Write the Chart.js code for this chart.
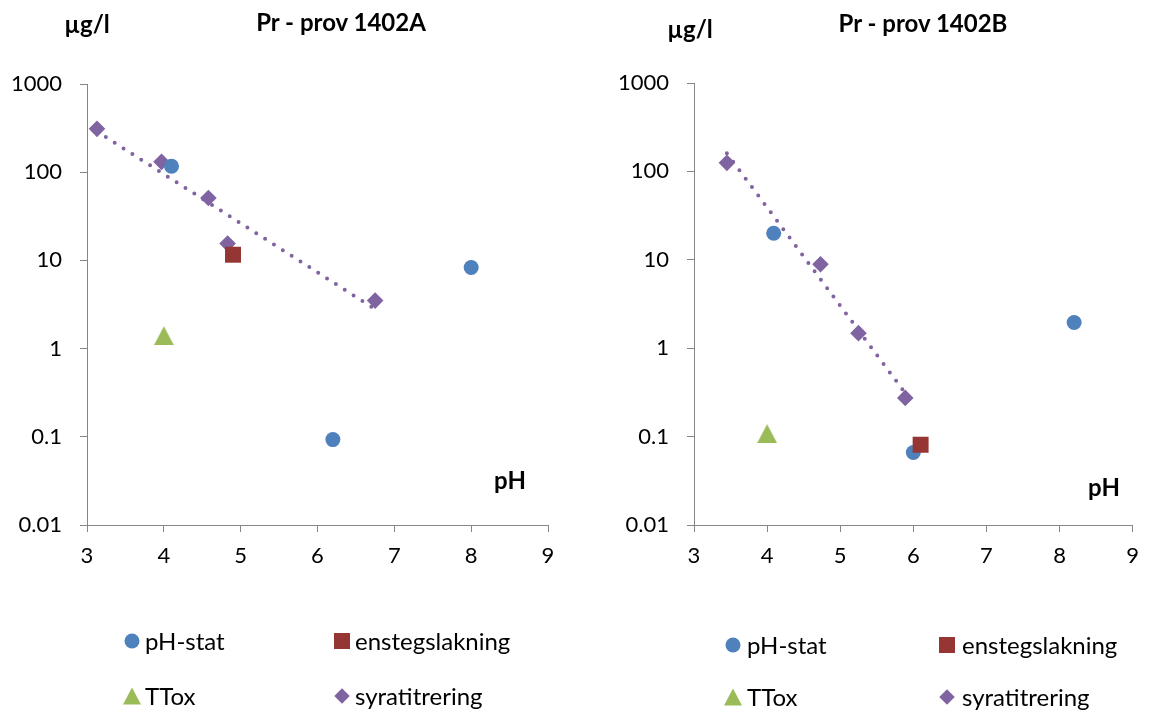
<!DOCTYPE html>
<html>
<head>
<meta charset="utf-8">
<script src="https://cdn.jsdelivr.net/npm/chart.js@4.4.0/dist/chart.umd.min.js"></script>
<style>
body{margin:0;background:#fff;}
#wrap{position:relative;width:1150px;height:710px;font-family:Lato,sans-serif;color:#000;overflow:hidden;}
.panel{position:absolute;top:0;width:575px;height:710px;}
.panel canvas{position:absolute;left:0;top:0;}
.lbl{position:absolute;white-space:nowrap;font-weight:bold;font-size:24px;line-height:1;transform:translate(-50%,-50%);}
.leg{position:absolute;font-size:24px;line-height:1;white-space:nowrap;transform:translateY(-50%);}
.mk{position:absolute;transform:translate(-50%,-50%);}
</style>
</head>
<body>
<div id="wrap">
  <div class="panel" id="pA" style="left:0"><canvas id="cA" width="575" height="710"></canvas></div>
  <div class="panel" id="pB" style="left:575px"><canvas id="cB" width="575" height="710"></canvas></div>
</div>
<script>
// series names (legend order)
var seriesNames = ['pH-stat', 'enstegslakning', 'TTox', 'syratitrering'];
var xTicks = [3, 4, 5, 6, 7, 8, 9];
var yTicks = [0.01, 0.1, 1, 10, 100, 1000];
var yTickLabels = ['0.01', '0.1', '1', '10', '100', '1000'];

// Pr - prov 1402A
var aPhStatX = [4.1, 6.2, 8.0];
var aPhStatY = [117, 0.093, 8.3];
var aEnstegX = [4.9];
var aEnstegY = [11.6];
var aTToxX = [4.0];
var aTToxY = [1.4];
var aSyraX = [3.13, 3.97, 4.58, 4.83, 6.75];
var aSyraY = [310, 131, 51, 15.5, 3.5];
var aTrendX = [3.13, 6.75];
var aTrendY = [290, 2.8];

// Pr - prov 1402B
var bPhStatX = [4.09, 6.0, 8.2];
var bPhStatY = [20, 0.066, 1.95];
var bEnstegX = [6.1];
var bEnstegY = [0.081];
var bTToxX = [4.0];
var bTToxY = [0.108];
var bSyraX = [3.45, 4.73, 5.25, 5.89];
var bSyraY = [125, 8.9, 1.48, 0.274];
var bTrendX = [3.45, 5.89];
var bTrendY = [160, 0.31];

var colors = ['#4F81BD', '#963634', '#9BBB59', '#8064A2'];
var axisColor = '#868686';

function pts(xs, ys) {
  return xs.map(function (x, i) { return { x: x, y: ys[i] }; });
}

function triImg(color, w, h) {
  var c = document.createElement('canvas');
  c.width = w; c.height = h;
  var g = c.getContext('2d');
  g.fillStyle = color;
  g.beginPath();
  g.moveTo(w / 2, 0);
  g.lineTo(w, h);
  g.lineTo(0, h);
  g.closePath();
  g.fill();
  return c;
}

function makeChart(id, d, lay) {
  var datasets = [
    { label: seriesNames[0], data: pts(d.phX, d.phY), pointStyle: 'circle', pointRadius: 7.5,
      backgroundColor: colors[0], borderWidth: 0, order: 3 },
    { label: seriesNames[1], data: pts(d.enX, d.enY), pointStyle: 'rect', pointRadius: 11.3,
      backgroundColor: colors[1], borderWidth: 0, order: 2 },
    { label: seriesNames[2], data: pts(d.ttX, d.ttY), pointStyle: triImg(colors[2], 20, 19),
      backgroundColor: colors[2], borderWidth: 0, order: 1 },
    { label: seriesNames[3], data: pts(d.syX, d.syY), pointStyle: 'rectRot', pointRadius: 8.3,
      backgroundColor: colors[3], borderWidth: 0, order: 4 },
    { label: 'trend', data: pts(d.trX, d.trY), showLine: true, pointRadius: 0,
      borderColor: colors[3], borderWidth: 4, borderDash: [0, 10.5], borderCapStyle: 'round',
      fill: false, order: 0 }
  ];
  return new Chart(document.getElementById(id), {
    type: 'scatter',
    data: { datasets: datasets },
    options: {
      responsive: false,
      devicePixelRatio: 1,
      animation: false,
      layout: { padding: { top: lay.top, right: 575 - lay.right, left: 0, bottom: 0 } },
      plugins: { legend: { display: false }, tooltip: { enabled: false }, title: { display: false } },
      scales: {
        x: {
          type: 'linear', min: 3, max: 9,
          afterBuildTicks: function (s) { s.ticks = xTicks.map(function (v) { return { value: v }; }); },
          afterFit: function (s) { s.height = 710 - lay.bottom; },
          grid: { drawOnChartArea: false, drawTicks: true, tickLength: 7, color: axisColor },
          border: { display: true, color: axisColor, width: 1 },
          ticks: { color: '#000', padding: 11, font: { family: 'Lato', size: 22 } }
        },
        y: {
          type: 'logarithmic', min: 0.01, max: 1000,
          afterBuildTicks: function (s) { s.ticks = yTicks.map(function (v) { return { value: v }; }); },
          afterFit: function (s) { s.width = lay.left; },
          grid: { drawOnChartArea: false, drawTicks: true, tickLength: 7, color: axisColor },
          border: { display: true, color: axisColor, width: 1 },
          ticks: {
            color: '#000', padding: 18, font: { family: 'Lato', size: 22 },
            callback: function (v) { return yTickLabels[yTicks.indexOf(v)]; }
          }
        }
      }
    }
  });
}

function addText(panel, cls, text, x, y) {
  var el = document.createElement('div');
  el.className = cls;
  el.textContent = text;
  el.style.left = x + 'px';
  el.style.top = y + 'px';
  document.getElementById(panel).appendChild(el);
}

function addMarker(panel, idx, x, y) {
  var el = document.createElement('div');
  el.className = 'mk';
  var c = colors[idx];
  if (idx === 0) {
    el.style.cssText += 'width:15px;height:15px;border-radius:50%;background:' + c;
  } else if (idx === 1) {
    el.style.cssText += 'width:16px;height:16px;background:' + c;
  } else if (idx === 2) {
    el.style.cssText += 'width:0;height:0;border-left:9px solid transparent;border-right:9px solid transparent;border-bottom:17px solid ' + c;
  } else {
    el.style.cssText += 'width:11px;height:11px;background:' + c + ';transform:translate(-50%,-50%) rotate(45deg)';
  }
  el.style.left = x + 'px';
  el.style.top = y + 'px';
  document.getElementById(panel).appendChild(el);
}

function addPanel(panel, canvasId, title, d, lay) {
  makeChart(canvasId, d, lay);
  addText(panel, 'lbl', 'µg/l', lay.unitX, lay.unitY);
  addText(panel, 'lbl', title, lay.titleX, lay.titleY);
  addText(panel, 'lbl', 'pH', lay.phX, lay.phY);
  for (var i = 0; i < seriesNames.length; i++) {
    var col = i % 2, row = Math.floor(i / 2);
    addMarker(panel, i, lay.legMk[col], lay.legRow[row]);
    addText(panel, 'leg', seriesNames[i], lay.legTx[col], lay.legRow[row]);
  }
}

addPanel('pA', 'cA', 'Pr - prov 1402A',
  { phX: aPhStatX, phY: aPhStatY, enX: aEnstegX, enY: aEnstegY, ttX: aTToxX, ttY: aTToxY,
    syX: aSyraX, syY: aSyraY, trX: aTrendX, trY: aTrendY },
  { left: 87, right: 548, top: 84, bottom: 525,
    unitX: 87, unitY: 24, titleX: 341, titleY: 22, phX: 510, phY: 480,
    legMk: [132, 342], legTx: [145, 355], legRow: [641, 696] });

addPanel('pB', 'cB', 'Pr - prov 1402B',
  { phX: bPhStatX, phY: bPhStatY, enX: bEnstegX, enY: bEnstegY, ttX: bTToxX, ttY: bTToxY,
    syX: bSyraX, syY: bSyraY, trX: bTrendX, trY: bTrendY },
  { left: 119, right: 562, top: 83, bottom: 525,
    unitX: 115, unitY: 29, titleX: 348, titleY: 23, phX: 529, phY: 487,
    legMk: [158, 372], legTx: [172, 387], legRow: [645, 697] });
</script>
</body>
</html>
